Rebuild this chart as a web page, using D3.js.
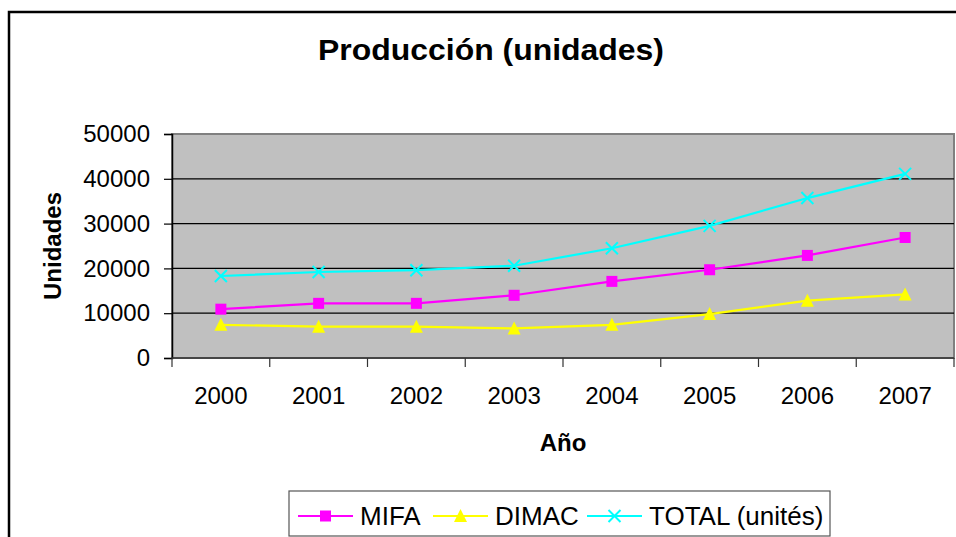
<!DOCTYPE html>
<html>
<head>
<meta charset="utf-8">
<script src="https://cdn.jsdelivr.net/npm/d3@7"></script>
<style>
  body { margin: 0; background: #fff; }
  svg { display: block; font-family: Arial, "Liberation Sans", sans-serif; }
</style>
</head>
<body>
<div id="chart"></div>
<script>
// data
const years = ["2000", "2001", "2002", "2003", "2004", "2005", "2006", "2007"];
const mifa = [10900, 12200, 12200, 14000, 17100, 19700, 22900, 26900];
const dimac = [7400, 7000, 7000, 6600, 7400, 9800, 12800, 14200];
const total = [18300, 19200, 19600, 20600, 24500, 29500, 35700, 41100];
const yTicks = [0, 10000, 20000, 30000, 40000, 50000];

const seriesNames = ["MIFA", "DIMAC", "TOTAL (unités)"];
const seriesColors = ["#ff00ff", "#ffff00", "#00ffff"];
const seriesShapes = ["square", "triangle", "cross"];

const W = 956, H = 537;
const plot = { left: 172, top: 134, right: 954, bottom: 358 };

const svg = d3.select("#chart")
    .append("svg")
    .attr("width", W)
    .attr("height", H);

// outer chart frame (runs off the right and bottom)
svg.append("rect")
    .attr("x", 9).attr("y", 12)
    .attr("width", 1000).attr("height", 600)
    .attr("fill", "#fff")
    .attr("stroke", "#000")
    .attr("stroke-width", 2.5);

const x = d3.scaleBand()
    .domain(years)
    .range([plot.left, plot.right])
    .padding(0);

const y = d3.scaleLinear()
    .domain([0, 50000])
    .range([plot.bottom, plot.top]);

const cx = d => x(d) + x.bandwidth() / 2;

// plot area
svg.append("rect")
    .attr("x", plot.left).attr("y", plot.top)
    .attr("width", plot.right - plot.left)
    .attr("height", plot.bottom - plot.top)
    .attr("fill", "#c0c0c0")
    .attr("stroke", "#808080")
    .attr("stroke-width", 2);

// gridlines
svg.append("g")
    .selectAll("line")
    .data(yTicks.filter(t => t > 0 && t < 50000))
    .enter().append("line")
    .attr("x1", plot.left).attr("x2", plot.right)
    .attr("y1", d => y(d)).attr("y2", d => y(d))
    .attr("stroke", "#000")
    .attr("stroke-width", 1.2);

// y axis
const yAxis = svg.append("g")
    .attr("transform", `translate(${plot.left},0)`)
    .call(d3.axisLeft(y).tickValues(yTicks).tickSize(8).tickPadding(14).tickFormat(d3.format("d")));
yAxis.select(".domain").attr("stroke", "#000").attr("stroke-width", 1.5);
yAxis.selectAll(".tick line").attr("stroke", "#000").attr("stroke-width", 1.2);
yAxis.selectAll("text")
    .attr("fill", "#000")
    .style("font-size", "24px");

// x axis: ticks at category boundaries
const xAxis = svg.append("g")
    .attr("transform", `translate(0,${plot.bottom})`);
xAxis.append("line")
    .attr("x1", plot.left).attr("x2", plot.right)
    .attr("stroke", "#333").attr("stroke-width", 1.5);
xAxis.selectAll(".xt")
    .data(years.concat(["end"]))
    .enter().append("line")
    .attr("class", "xt")
    .attr("x1", d => d === "end" ? plot.right : x(d))
    .attr("x2", d => d === "end" ? plot.right : x(d))
    .attr("y1", 0).attr("y2", 9)
    .attr("stroke", "#333").attr("stroke-width", 1.2);
xAxis.selectAll(".xl")
    .data(years)
    .enter().append("text")
    .attr("class", "xl")
    .attr("x", d => cx(d))
    .attr("y", 46)
    .attr("text-anchor", "middle")
    .style("font-size", "24px")
    .text(d => d);

// titles
svg.append("text")
    .attr("x", 491).attr("y", 60)
    .attr("text-anchor", "middle")
    .attr("textLength", 346)
    .attr("lengthAdjust", "spacingAndGlyphs")
    .style("font-size", "30px")
    .style("font-weight", "bold")
    .text("Producción (unidades)");

svg.append("text")
    .attr("x", (plot.left + plot.right) / 2)
    .attr("y", 451)
    .attr("text-anchor", "middle")
    .style("font-size", "24px")
    .style("font-weight", "bold")
    .text("Año");

svg.append("text")
    .attr("transform", `translate(61,${(plot.top + plot.bottom) / 2}) rotate(-90)`)
    .attr("text-anchor", "middle")
    .style("font-size", "24px")
    .style("font-weight", "bold")
    .text("Unidades");

// marker drawing
function drawMarker(g, shape, color, px, py) {
    if (shape === "square") {
        g.append("rect")
            .attr("x", px - 5.5).attr("y", py - 5.5)
            .attr("width", 11).attr("height", 11)
            .attr("fill", color);
    } else if (shape === "triangle") {
        g.append("path")
            .attr("d", `M${px},${py - 7} L${px + 6.5},${py + 6} L${px - 6.5},${py + 6} Z`)
            .attr("fill", color);
    } else {
        g.append("path")
            .attr("d", `M${px - 6},${py - 6} L${px + 6},${py + 6} M${px - 6},${py + 6} L${px + 6},${py - 6}`)
            .attr("stroke", color)
            .attr("stroke-width", 2)
            .attr("fill", "none");
    }
}

const allSeries = [mifa, dimac, total];
const line = d3.line()
    .x((d, i) => cx(years[i]))
    .y(d => y(d));

// draw in reverse so MIFA sits on top
[2, 1, 0].forEach(s => {
    const g = svg.append("g");
    g.append("path")
        .datum(allSeries[s])
        .attr("d", line)
        .attr("fill", "none")
        .attr("stroke", seriesColors[s])
        .attr("stroke-width", 2.2);
    allSeries[s].forEach((v, i) => drawMarker(g, seriesShapes[s], seriesColors[s], cx(years[i]), y(v)));
});

// legend
const legend = svg.append("g");
legend.append("rect")
    .attr("x", 289).attr("y", 491)
    .attr("width", 541).attr("height", 45)
    .attr("fill", "#fff")
    .attr("stroke", "#555")
    .attr("stroke-width", 1.2);

const legendX = [298, 433, 587];
seriesNames.forEach((name, s) => {
    const lx = legendX[s], ly = 516;
    legend.append("line")
        .attr("x1", lx).attr("x2", lx + 55)
        .attr("y1", ly).attr("y2", ly)
        .attr("stroke", seriesColors[s])
        .attr("stroke-width", 2);
    drawMarker(legend, seriesShapes[s], seriesColors[s], lx + 27.5, ly);
    legend.append("text")
        .attr("x", lx + 62)
        .attr("y", ly + 9)
        .style("font-size", "26px")
        .text(name);
});
</script>
</body>
</html>
